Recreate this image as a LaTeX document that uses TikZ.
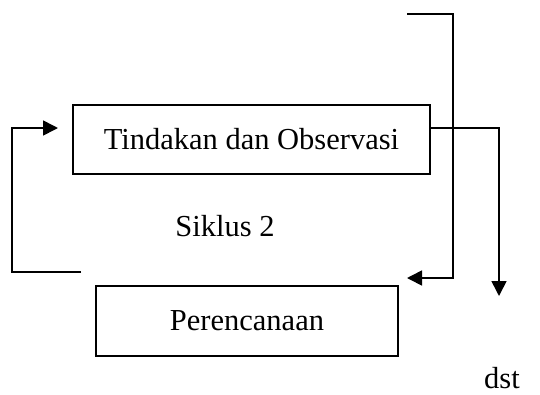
\documentclass[tikz,border=0pt]{standalone}
\usepackage{fontspec}
\setmainfont{Liberation Serif}
\usetikzlibrary{arrows.meta}
\begin{document}
\begin{tikzpicture}[x=1pt,y=-1pt,
  box/.style={draw,line width=1.6pt,inner sep=0pt,minimum width=#1},
  lbl/.style={inner sep=0pt,font=\fontsize{30.5}{36}\selectfont},
  arr/.style={line width=1.6pt,-{Triangle[length=15pt,width=15pt]}}]
\useasboundingbox (0,0) rectangle (540,394);
\node[box=357pt,minimum height=69pt,lbl] (obs) at (251.5,139.5) {Tindakan dan Observasi};
\node[box=302pt,minimum height=70pt,lbl] (plan) at (247,321) {Perencanaan};
\node[lbl] (sik) at (225,226) {Siklus 2};
\node[lbl] (dst) at (502,378) {dst};
% top incoming line to Perencanaan
\coordinate (t0) at (407,14);
\coordinate (t1) at (453,14);
\coordinate (t2) at (453,278);
\coordinate (t3) at (407,278);
\draw[arr] (t0) -- (t1) -- (t2) -- (t3);
% out of Tindakan to dst
\coordinate (o0) at (obs.east |- 0,128);
\coordinate (o1) at (499,128);
\coordinate (o2) at (499,296);
\draw[arr] (o0) -- (o1) -- (o2);
% left loop
\coordinate (l0) at (81,272);
\coordinate (l1) at (12,272);
\coordinate (l2) at (12,128);
\coordinate (l3) at (58,128);
\draw[arr] (l0) -- (l1) -- (l2) -- (l3);
\end{tikzpicture}
\end{document}
